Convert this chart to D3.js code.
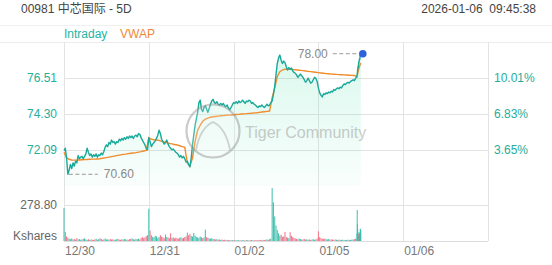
<!DOCTYPE html>
<html><head><meta charset="utf-8">
<script src="https://cdn.jsdelivr.net/npm/d3@7"></script>
<style>html,body{margin:0;padding:0;background:#fff;} svg{display:block;font-family:"Liberation Sans",Arial,"Noto Sans CJK SC",sans-serif;}</style>
</head><body><svg id="c" width="552" height="265"></svg>
<script>
// ---------- data ----------
const title = "00981 中芯国际 - 5D";
const timestamp = "2026-01-06  09:45:38";
const dates = ["12/30", "12/31", "01/02", "01/05", "01/06"];
const fullDay = 330;                           // minutes in a full HK session
const sessionLength = [330, 150, 330, 330, 330]; // 12/31 half day
const priceStep = [5, 5, 5, 5, 1];
const vwapStep = [10, 10, 10, 10, 1];
const priceTicks = [72.09, 74.30, 76.51];
const pctTicks = ["3.65%", "6.83%", "10.01%"];
const priceDomain = [69.88, 78.72];
const volumeTicks = [278.80];
const volumeDomain = [0, 418.2];

const price1230 = [72.05,72.20,71.60,70.60,70.85,71.20,70.95,71.30,71.10,71.40,71.30,71.75,71.55,71.65,71.70,71.55,71.70,71.85,72.20,71.95,71.75,71.85,71.65,71.80,71.70,71.85,71.65,71.80,71.75,71.90,71.80,72.00,72.25,72.40,72.30,72.55,72.45,72.70,72.55,72.60,72.45,72.60,72.55,72.75,72.65,72.80,72.70,72.85,72.75,72.90,72.80,72.95,72.85,72.95,72.80,72.95,73.00,72.90,73.10,73.05,72.85,72.70,72.55,72.40,72.20,72.10];
const price1231 = [72.85,72.60,72.30,72.45,72.55,72.65,72.80,73.00,73.30,73.10,72.75,72.60,72.45,72.55,72.70,72.45,72.30,72.20,72.10,72.15,72.05,71.95,71.90,71.80,71.65,71.75,71.60,71.70,71.55,71.35];
const price0102 = [71.40,71.20,71.05,71.60,72.40,73.00,73.60,74.00,74.40,75.00,75.15,74.60,74.45,74.70,74.80,74.60,74.40,74.65,74.90,75.10,75.20,75.00,74.95,75.05,74.90,74.85,74.95,74.85,74.95,74.80,74.75,74.85,74.65,74.55,74.70,74.85,75.00,74.95,75.05,74.95,75.10,75.00,75.05,75.15,75.05,74.95,75.10,75.05,75.15,75.10,74.95,75.00,74.90,74.85,74.75,74.70,74.80,74.75,74.85,74.75,74.70,74.80,74.90,74.80,74.85,75.00];
const price0105 = [75.10,75.50,76.00,76.70,77.40,77.75,77.92,77.60,77.40,77.55,77.45,77.20,77.00,77.15,77.05,77.12,76.95,76.85,76.80,76.70,76.55,76.65,76.75,76.65,76.55,76.40,76.25,76.35,76.50,76.35,76.20,76.25,76.40,76.55,76.50,76.30,75.90,75.60,75.45,75.35,75.55,75.50,75.60,75.55,75.65,75.60,75.70,75.65,75.80,75.75,75.85,75.90,75.85,75.95,75.90,76.05,76.15,76.10,76.20,76.25,76.20,76.30,76.35,76.40,76.35,76.50];
const price0106 = [76.60,76.75,76.90,77.05,77.20,77.15,77.35,77.50,77.45,77.60,77.70,77.65,77.80,77.90,77.95,78.00];

const vwap1230 = [71.95,71.62,71.52,71.48,71.47,71.47,71.48,71.49,71.50,71.51,71.52,71.53,71.53,71.54,71.55,71.58,71.61,71.64,71.67,71.70,71.73,71.76,71.79,71.82,71.84,71.87,71.89,71.91,71.93,71.96,71.99,72.03,72.07];
const vwap1231 = [72.85,72.75,72.72,72.70,72.68,72.62,72.58,72.55,72.50,72.47,72.43,72.40,72.35,72.30,72.25];
const vwap0102 = [71.30,71.10,71.60,72.60,73.30,73.60,73.85,73.98,74.05,74.10,74.13,74.15,74.17,74.19,74.20,74.22,74.23,74.24,74.25,74.27,74.28,74.30,74.31,74.32,74.34,74.35,74.37,74.38,74.40,74.42,74.44,74.46,74.48];
const vwap0105 = [75.30,75.90,76.60,76.90,77.00,77.05,77.05,77.05,77.03,77.02,77.00,76.98,76.96,76.94,76.92,76.90,76.88,76.86,76.84,76.82,76.80,76.78,76.77,76.75,76.74,76.73,76.72,76.71,76.70,76.69,76.68,76.67,76.66];
const vwap0106 = [76.60,76.65,76.72,76.80,76.88,76.95,77.00,77.06,77.12,77.17,77.22,77.27,77.31,77.35,77.39,77.42];

const vol1230 = [255,70,35,25,18,14,20,12,16,10,22,12,15,10,12,18,20,12,9,14,8,12,10,8,12,18,10,14,22,16,10,12,20,12,14,9,16,11,13,9,11,14,17,11,9,14,11,16,13,11,9,14,17,20,13,11,16,14,18,12,24,30,22,28,38,45];
const vol1231 = [250,80,45,32,28,40,35,22,30,45,34,28,22,50,32,28,22,60,24,28,20,26,22,18,24,30,20,24,30,36];
const vol0102 = [65,45,55,40,35,62,42,32,28,24,35,28,22,28,88,30,24,20,18,22,16,14,12,14,10,12,9,11,8,10,7,9,6,8,6,7,5,8,6,5,7,6,5,6,8,5,6,7,5,6,8,6,7,5,6,8,7,6,9,8,7,10,12,9,14,18];
const vol0105 = [410,300,190,120,85,60,42,48,32,36,70,30,26,22,68,40,30,24,20,16,13,20,15,11,13,16,11,13,10,12,9,11,14,10,12,20,75,30,22,18,15,20,14,12,16,10,13,11,9,12,10,8,11,9,8,10,7,9,8,10,9,8,11,12,14,18];
const vol0106 = [60,240,130,90,70,55,45,40,50,45,60,55,70,95,90,80];

// ---------- build ----------
const priceDays = [price1230, price1231, price0102, price0105, price0106];
const vwapDays = [vwap1230, vwap1231, vwap0102, vwap0105, vwap0106];
const volDays = [vol1230, vol1231, vol0102, vol0105, vol0106];

const pts = [], vw = [];
let offset = 0;
priceDays.forEach((arr, k) => {
  arr.forEach((v, i) => pts.push({t: offset + i * priceStep[k], v, vol: volDays[k][i]}));
  vwapDays[k].forEach((v, i) => vw.push({t: offset + i * vwapStep[k], v}));
  offset += sessionLength[k];
});
pts.forEach((p, i) => p.up = i === 0 ? true : p.v >= pts[i - 1].v);

const L = 64, R = 488, T = 42, PB = 186, VT = 187, VB = 241;
const x = d3.scaleLinear().domain([0, dates.length * fullDay]).range([L, R]);
const y = d3.scaleLinear().domain(priceDomain).range([PB, T]);
const yv = d3.scaleLinear().domain(volumeDomain).range([VB, VT]);

const svg = d3.select("#c");
const crisp = v => Math.round(v) + 0.5;
const teal = "#17a999", orange = "#f08c2b", grid = "#e3e3e3";

const defs = svg.append("defs");
const grad = defs.append("linearGradient").attr("id", "g").attr("gradientUnits", "userSpaceOnUse")
  .attr("x1", 0).attr("x2", 0).attr("y1", T).attr("y2", PB);
grad.append("stop").attr("offset", "0%").attr("stop-color", "#3ddca0").attr("stop-opacity", 0.2);
grad.append("stop").attr("offset", "100%").attr("stop-color", "#3ddca0").attr("stop-opacity", 0.03);

// header
svg.append("text").attr("x", 21).attr("y", 13).attr("font-size", 12).attr("fill", "#444").text(title);
svg.append("text").attr("x", 536).attr("y", 13).attr("text-anchor", "end").attr("font-size", 12).attr("fill", "#444")
  .attr("xml:space", "preserve").style("white-space", "pre").text(timestamp);
svg.append("line").attr("x1", 0).attr("x2", 552).attr("y1", 25.5).attr("y2", 25.5).attr("stroke", "#f0f0f0");
svg.append("line").attr("x1", 0).attr("x2", 552).attr("y1", crisp(T)).attr("y2", crisp(T)).attr("stroke", "#ececec");
svg.append("text").attr("x", 64).attr("y", 38).attr("font-size", 12).attr("fill", "#1fb3a3").text("Intraday");
svg.append("text").attr("x", 120).attr("y", 38).attr("font-size", 12).attr("fill", "#f0883a").text("VWAP");

// grid
const gx = d3.range(dates.length + 1).map(k => x(k * fullDay));
svg.append("g").selectAll("line").data(gx).join("line")
  .attr("x1", d => crisp(d)).attr("x2", d => crisp(d)).attr("y1", T).attr("y2", VB)
  .attr("stroke", grid);
svg.append("g").selectAll("line").data(priceTicks).join("line")
  .attr("x1", L).attr("x2", R).attr("y1", d => crisp(y(d))).attr("y2", d => crisp(y(d))).attr("stroke", grid);
svg.append("g").selectAll("line").data(volumeTicks).join("line")
  .attr("x1", L).attr("x2", R).attr("y1", d => crisp(yv(d))).attr("y2", d => crisp(yv(d))).attr("stroke", grid);
svg.append("line").attr("x1", L).attr("x2", R).attr("y1", crisp(VB)).attr("y2", crisp(VB)).attr("stroke", "#dcdcdc");

// axis labels
svg.append("g").selectAll("text").data(priceTicks).join("text")
  .attr("x", 57).attr("y", d => y(d)).attr("dy", "0.35em").attr("text-anchor", "end")
  .attr("font-size", 12).attr("fill", "#25ad9c").text(d => d.toFixed(2));
svg.append("g").selectAll("text").data(pctTicks).join("text")
  .attr("x", 494).attr("y", (d, i) => y(priceTicks[i])).attr("dy", "0.35em")
  .attr("font-size", 12).attr("fill", "#25ad9c").text(d => d);
svg.append("g").selectAll("text").data(volumeTicks).join("text")
  .attr("x", 57).attr("y", d => yv(d)).attr("dy", "0.35em").attr("text-anchor", "end")
  .attr("font-size", 12).attr("fill", "#666").text(d => d.toFixed(2));
svg.append("text").attr("x", 57).attr("y", 236).attr("dy", "0.35em").attr("text-anchor", "end")
  .attr("font-size", 12).attr("fill", "#666").text("Kshares");
svg.append("g").selectAll("text").data(dates).join("text")
  .attr("x", (d, k) => x(k * fullDay) + 1).attr("y", 255).attr("font-size", 12).attr("fill", "#777").text(d => d);

// area + lines
svg.append("path").datum(pts).attr("fill", "url(#g)")
  .attr("d", d3.area().x(d => x(d.t)).y0(PB).y1(d => y(d.v)));
svg.append("path").datum(vw).attr("fill", "none").attr("stroke", orange).attr("stroke-width", 1.4)
  .attr("d", d3.line().x(d => x(d.t)).y(d => y(d.v)));
svg.append("path").datum(pts).attr("fill", "none").attr("stroke", teal).attr("stroke-width", 1.4)
  .attr("stroke-linejoin", "round").attr("d", d3.line().x(d => x(d.t)).y(d => y(d.v)));

// volume
svg.append("g").selectAll("rect").data(pts).join("rect")
  .attr("x", d => x(d.t) - 0.5).attr("width", 1)
  .attr("y", d => yv(d.vol)).attr("height", d => VB - yv(d.vol))
  .attr("fill", d => d.up ? "#3dbfae" : "#f36f86");

// high / low markers
const hi = pts.reduce((a, b) => b.v > a.v ? b : a);
const lo = pts.reduce((a, b) => b.v < a.v ? b : a);
const hx = x(hi.t) + 2, hy = y(hi.v);
svg.append("line").attr("x1", hx - 30).attr("x2", hx - 5).attr("y1", hy).attr("y2", hy)
  .attr("stroke", "#999").attr("stroke-dasharray", "4,2.5");
svg.append("text").attr("x", hx - 35).attr("y", hy).attr("dy", "0.35em").attr("text-anchor", "end")
  .attr("font-size", 12).attr("fill", "#888").text(hi.v.toFixed(2));
svg.append("circle").attr("cx", hx).attr("cy", hy).attr("r", 3.8).attr("fill", "#2d62dc");
const lx = x(lo.t), ly = y(lo.v);
svg.append("line").attr("x1", lx + 1).attr("x2", lx + 30).attr("y1", ly).attr("y2", ly)
  .attr("stroke", "#999").attr("stroke-dasharray", "4,2.5");
svg.append("text").attr("x", lx + 36).attr("y", ly).attr("dy", "0.35em")
  .attr("font-size", 12).attr("fill", "#888").text(lo.v.toFixed(2));

// watermark
const wm = svg.append("g").attr("opacity", 0.5);
wm.append("circle").attr("cx", 213).attr("cy", 131).attr("r", 26.5).attr("fill", "rgba(255,255,255,0.4)")
  .attr("stroke", "#999").attr("stroke-width", 2.2);
wm.append("path").attr("d", "M196,150 Q200,128 213,122 Q226,128 230,150").attr("fill", "none").attr("stroke", "#aaa").attr("stroke-width", 1.8);
wm.append("text").attr("x", 245).attr("y", 138).attr("font-size", 16).attr("fill", "#999").text("Tiger Community");
</script></body></html>
